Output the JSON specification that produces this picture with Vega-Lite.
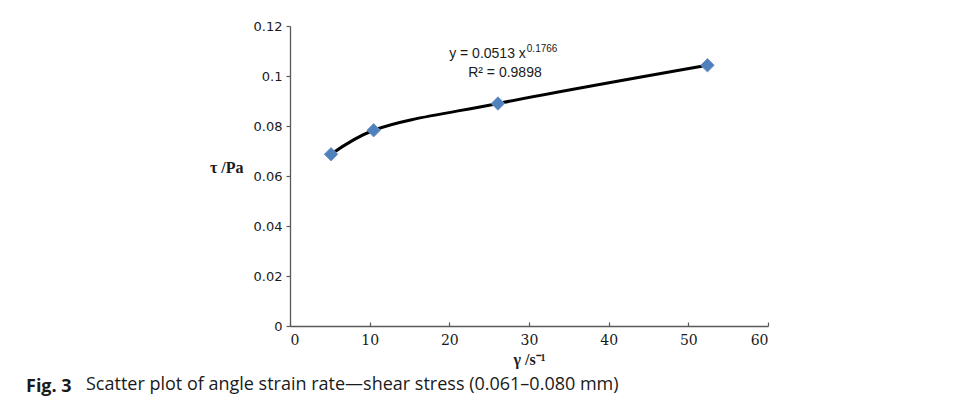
{
  "$schema": "https://vega.github.io/schema/vega-lite/v6.json",
  "autosize": "none",
  "padding": {"left": 290, "top": 26, "right": 188, "bottom": 82},
  "width": 478,
  "height": 300,
  "background": "white",
  "title": {
    "text": "Fig. 3",
    "subtitle": "\u200b\u2003\u2003\u2003\u2009\u2009Scatter plot of angle strain rate\u2014shear stress (0.061\u20130.080 mm)",
    "orient": "bottom",
    "anchor": "start",
    "frame": "group",
    "dx": -264,
    "offset": 11,
    "font": "Open Sans",
    "fontSize": 18,
    "fontWeight": "bold",
    "color": "#1a1a1a",
    "subtitleFont": "Open Sans",
    "subtitleFontSize": 18,
    "subtitleFontWeight": "normal",
    "subtitleColor": "#1a1a1a",
    "subtitlePadding": -20
  },
  "config": {
    "view": {"stroke": null},
    "axis": {"grid": false}
  },
  "data": {
    "values": [
      {"rate": 5.15, "stress": 0.0687},
      {"rate": 10.5, "stress": 0.0783},
      {"rate": 26.1, "stress": 0.0890},
      {"rate": 52.4, "stress": 0.1043}
    ]
  },
  "layer": [
    {
      "mark": {"type": "line", "color": "black", "strokeWidth": 3, "interpolate": "catmull-rom"},
      "encoding": {
        "x": {
          "field": "rate", "type": "quantitative",
          "scale": {"domain": [0, 60], "nice": false, "zero": true},
          "axis": {
            "values": [0, 10, 20, 30, 40, 50, 60],
            "title": "\u03b3  /s\u207b\u00b9",
            "titleFont": "Liberation Serif",
            "titleFontSize": 16,
            "titleFontWeight": "bold",
            "titleColor": "#1a1a1a",
            "titlePadding": 4,
            "labelFont": "DejaVu Serif",
            "labelFontSize": 14,
            "labelColor": "#1a1a1a",
            "labelPadding": 11,
            "tickSize": -4,
            "tickColor": "#595959",
            "domainColor": "#595959",
            "domainWidth": 1.3,
            "tickWidth": 1.2
          }
        },
        "y": {
          "field": "stress", "type": "quantitative",
          "scale": {"domain": [0, 0.12], "nice": false},
          "axis": {
            "values": [0, 0.02, 0.04, 0.06, 0.08, 0.1, 0.12],
            "format": ".2~f",
            "title": "\u03c4 /Pa",
            "titleFont": "Liberation Serif",
            "titleFontSize": 16,
            "titleFontWeight": "bold",
            "titleColor": "#1a1a1a",
            "titleAngle": 0,
            "titleAlign": "right",
            "titleBaseline": "middle",
            "titleX": -47,
            "titleY": 141,
            "labelFont": "DejaVu Sans",
            "labelFontSize": 13,
            "labelColor": "#1a1a1a",
            "labelPadding": 4,
            "tickSize": 4,
            "tickColor": "#595959",
            "domainColor": "#595959",
            "domainWidth": 1.3,
            "tickWidth": 1.2
          }
        }
      }
    },
    {
      "mark": {"type": "point", "shape": "diamond", "filled": true, "size": 180, "color": "#4F81BD", "opacity": 1, "stroke": "#6f95c8", "strokeWidth": 1},
      "encoding": {
        "x": {"field": "rate", "type": "quantitative"},
        "y": {"field": "stress", "type": "quantitative"}
      }
    },
    {
      "data": {"values": [{}]},
      "mark": {"type": "text", "text": "y = 0.0513 x", "align": "right", "baseline": "middle", "font": "Liberation Sans", "fontSize": 14, "color": "#1a1a1a"},
      "encoding": {
        "x": {"datum": 29.6, "type": "quantitative"},
        "y": {"datum": 0.1087, "type": "quantitative"}
      }
    },
    {
      "data": {"values": [{}]},
      "mark": {"type": "text", "text": "0.1766", "align": "left", "baseline": "middle", "font": "Liberation Sans", "fontSize": 10, "color": "#1a1a1a", "dx": 1},
      "encoding": {
        "x": {"datum": 29.6, "type": "quantitative"},
        "y": {"datum": 0.1107, "type": "quantitative"}
      }
    },
    {
      "data": {"values": [{}]},
      "mark": {"type": "text", "text": "R\u00b2 = 0.9898", "align": "center", "baseline": "middle", "font": "Liberation Sans", "fontSize": 14, "color": "#1a1a1a"},
      "encoding": {
        "x": {"datum": 26.98, "type": "quantitative"},
        "y": {"datum": 0.1011, "type": "quantitative"}
      }
    }
  ]
}
